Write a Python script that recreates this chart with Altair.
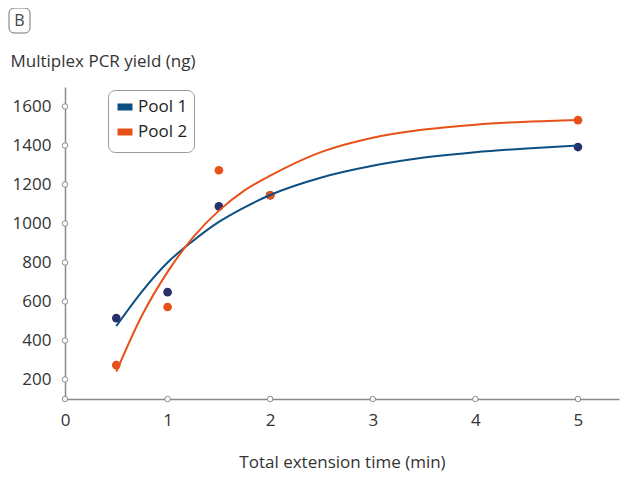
import altair as alt
import pandas as pd

# measured points
pt_time = [0.5, 1.0, 1.5, 2.0, 5.0]
pool1_pts = [515, 648, 1088, 1145, 1392]
pool2_pts = [274, 572, 1273, 1145, 1530]

# fitted curves
curve_time = [0.5, 0.75, 1.0, 1.25, 1.5, 1.75, 2.0, 2.5, 3.0, 3.5, 4.0, 4.5, 5.0]
pool1_curve = [474, 651, 800, 912, 1008, 1083, 1146, 1236, 1296, 1338, 1366, 1385, 1400]
pool2_curve = [240, 528, 752, 930, 1066, 1170, 1245, 1367, 1440, 1482, 1507, 1522, 1531]

y_ticks = [200, 400, 600, 800, 1000, 1200, 1400, 1600]
x_ticks = [0, 1, 2, 3, 4, 5]
y_min, y_max = 100, 1700
x_max = 5.40

FONT = "Open Sans"
BLUE_LINE = "#0d4f80"
BLUE_DOT = "#282f6b"
ORANGE = "#e8501a"
GRAY = "#8a8a8a"

pts = pd.DataFrame(
    [{"t": t, "v": v, "series": "Pool 1"} for t, v in zip(pt_time, pool1_pts)]
    + [{"t": t, "v": v, "series": "Pool 2"} for t, v in zip(pt_time, pool2_pts)]
)
curves = pd.DataFrame(
    [{"t": t, "v": v, "series": "Pool 1"} for t, v in zip(curve_time, pool1_curve)]
    + [{"t": t, "v": v, "series": "Pool 2"} for t, v in zip(curve_time, pool2_curve)]
)
tick_df = pd.DataFrame(
    [{"t": 0, "v": v} for v in [y_min] + y_ticks]
    + [{"t": t, "v": y_min} for t in x_ticks[1:]]
)

xscale = alt.Scale(domain=[0, x_max], nice=False, zero=False)
yscale = alt.Scale(domain=[y_min, y_max], nice=False, zero=False)

xaxis = alt.Axis(
    values=x_ticks, format="d", ticks=False, grid=False, domainColor=GRAY, domainWidth=1.5,
    labelFont=FONT, labelFontSize=17, labelColor="#333333", labelPadding=13,
    labelFlush=False,
    title="Total extension time (min)", titleFont=FONT, titleFontSize=17,
    titleFontWeight="normal", titleColor="#333333", titleBaseline="alphabetic",
    titleY=68,
)
yaxis = alt.Axis(
    values=y_ticks, format="d", ticks=False, grid=False, domainColor=GRAY, domainWidth=1.5,
    labelFont=FONT, labelFontSize=17, labelColor="#333333", labelPadding=14,
    labelFlush=False,
    title="Multiplex PCR yield (ng)", titleFont=FONT, titleFontSize=17,
    titleFontWeight="normal", titleColor="#333333", titleAngle=0,
    titleAlign="left", titleBaseline="alphabetic", titleX=-55, titleY=-21,
)

color_scale = alt.Scale(domain=["Pool 1", "Pool 2"], range=[BLUE_LINE, ORANGE])
dot_scale = alt.Scale(domain=["Pool 1", "Pool 2"], range=[BLUE_DOT, ORANGE])

base_axes = alt.Chart(tick_df).mark_point(
    shape="circle", filled=False, fill="white", stroke=GRAY, strokeWidth=1, size=30, opacity=1
).encode(
    x=alt.X("t:Q", scale=xscale, axis=xaxis),
    y=alt.Y("v:Q", scale=yscale, axis=yaxis),
)

dots = alt.Chart(pts).mark_circle(size=75, opacity=1).encode(
    x=alt.X("t:Q", scale=xscale),
    y=alt.Y("v:Q", scale=yscale),
    color=alt.Color("series:N", scale=dot_scale, legend=None),
    order=alt.Order("series:N", sort="ascending"),
)

lines = alt.Chart(curves).mark_line(strokeWidth=2, interpolate="monotone").encode(
    x=alt.X("t:Q", scale=xscale),
    y=alt.Y("v:Q", scale=yscale),
    color=alt.Color(
        "series:N", scale=color_scale,
        legend=alt.Legend(
            title=None, orient="none", legendX=43, legendY=3,
            symbolType="stroke", symbolSize=225, symbolStrokeWidth=7,
            symbolOpacity=1,
            labelFont=FONT, labelFontSize=17, labelColor="#222222",
            rowPadding=-5, symbolOffset=0, padding=6, cornerRadius=7,
            strokeColor="#999999", fillColor="white", labelOffset=2,
        ),
    ),
)

badge = alt.Chart(pd.DataFrame({"label": ["B"]})).mark_rect(
    cornerRadius=5, fill="white", stroke="#777777", strokeWidth=1
).encode(x=alt.value(-56), x2=alt.value(-35), y=alt.value(-79), y2=alt.value(-54))

badge_text = alt.Chart(pd.DataFrame({"label": ["B"]})).mark_text(
    font=FONT, fontSize=16, color="#444444", align="center", baseline="middle"
).encode(x=alt.value(-45.5), y=alt.value(-66), text="label:N")

chart = alt.layer(base_axes, dots, lines, badge, badge_text).properties(
    width=554, height=312,
    padding={"left": 57, "top": 79, "right": 1, "bottom": 72},
    autosize=alt.AutoSizeParams(type="none"),
).configure_view(stroke=None).resolve_scale(color="independent")

chart.save("out.html", embed_options={"renderer": "svg", "actions": False})
